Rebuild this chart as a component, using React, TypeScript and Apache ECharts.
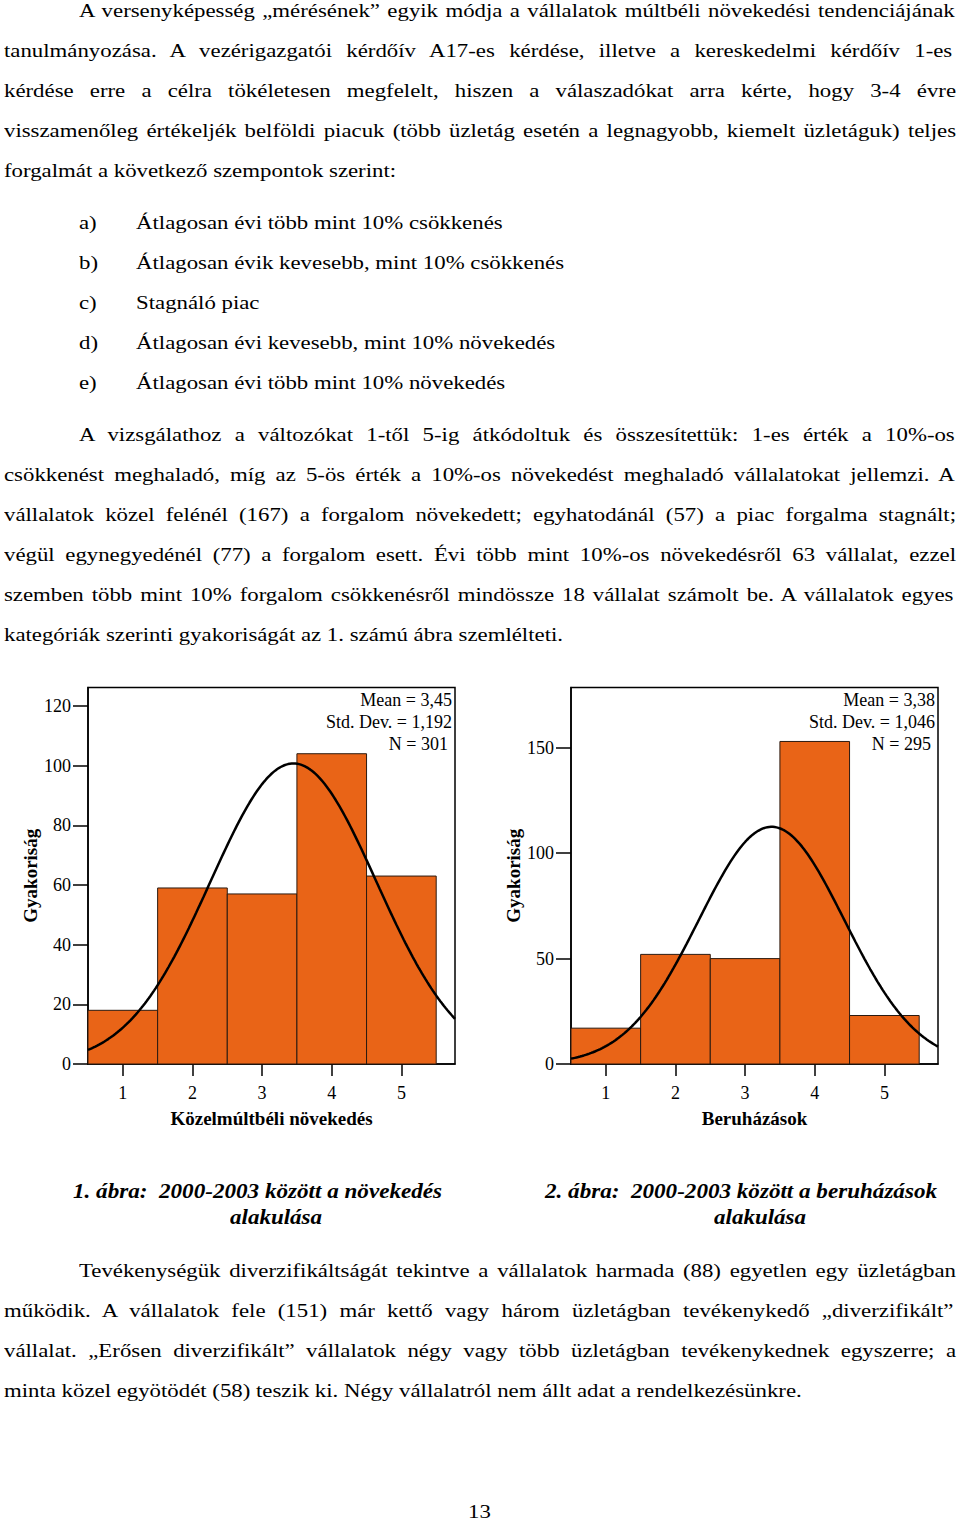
import React, { useEffect, useRef } from 'react';
import * as echarts from 'echarts';

// ---------- chart data ----------
const binCategories = [1, 2, 3, 4, 5];
const growthCounts = [18, 59, 57, 104, 63];
const investCounts = [17, 52, 50, 153, 23];
const growthYTicks = [0, 20, 40, 60, 80, 100, 120];
const investYTicks = [0, 50, 100, 150];
const growthStatLabels = ['Mean = 3,45', 'Std. Dev. = 1,192', 'N = 301'];
const investStatLabels = ['Mean = 3,38', 'Std. Dev. = 1,046', 'N = 295'];
const growthMeanSdN = [3.45, 1.192, 301];
const investMeanSdN = [3.38, 1.046, 295];
const axisTitles = ['Közelmúltbéli növekedés', 'Beruházások'];
const yTitle = 'Gyakoriság';

// ---------- page text ----------
const para1 = [
  'A versenyképesség „mérésének” egyik módja a vállalatok múltbéli növekedési tendenciájának',
  'tanulmányozása. A vezérigazgatói kérdőív A17-es kérdése, illetve a kereskedelmi kérdőív 1-es',
  'kérdése erre a célra tökéletesen megfelelt, hiszen a válaszadókat arra kérte, hogy 3-4 évre',
  'visszamenőleg értékeljék belföldi piacuk (több üzletág esetén a legnagyobb, kiemelt üzletáguk) teljes',
  'forgalmát a következő szempontok szerint:',
];
const listMarks = ['a)', 'b)', 'c)', 'd)', 'e)'];
const listItems = [
  'Átlagosan évi több mint 10% csökkenés',
  'Átlagosan évik kevesebb, mint 10% csökkenés',
  'Stagnáló piac',
  'Átlagosan évi kevesebb, mint 10% növekedés',
  'Átlagosan évi több mint 10% növekedés',
];
const para2 = [
  'A vizsgálathoz a változókat 1-től 5-ig átkódoltuk és összesítettük: 1-es érték a 10%-os',
  'csökkenést meghaladó, míg az 5-ös érték a 10%-os növekedést meghaladó vállalatokat jellemzi. A',
  'vállalatok közel felénél (167) a forgalom növekedett; egyhatodánál (57) a piac forgalma stagnált;',
  'végül egynegyedénél (77) a forgalom esett. Évi több mint 10%-os növekedésről 63 vállalat, ezzel',
  'szemben több mint 10% forgalom csökkenésről mindössze 18 vállalat számolt be. A vállalatok egyes',
  'kategóriák szerinti gyakoriságát az 1. számú ábra szemlélteti.',
];
const captions1 = ['1. ábra:  2000-2003 között a növekedés', 'alakulása'];
const captions2 = ['2. ábra:  2000-2003 között a beruházások', 'alakulása'];
const para3 = [
  'Tevékenységük diverzifikáltságát tekintve a vállalatok harmada (88) egyetlen egy üzletágban',
  'működik. A vállalatok fele (151) már kettő vagy három üzletágban tevékenykedő „diverzifikált”',
  'vállalat. „Erősen diverzifikált” vállalatok négy vagy több üzletágban tevékenykednek egyszerre; a',
  'minta közel egyötödét (58) teszik ki. Négy vállalatról nem állt adat a rendelkezésünkre.',
];
const pageNumber = '13';

const SERIF = "'Liberation Serif', 'Times New Roman', serif";
const ORANGE = '#E96417';
const SX = 1.2;

let mctx: CanvasRenderingContext2D | null = null;
function measure(text: string, font: string): number {
  if (!mctx) mctx = document.createElement('canvas').getContext('2d');
  if (!mctx) return text.length * 9;
  mctx.font = font;
  return mctx.measureText(text).width;
}

type LineProps = {
  text: string;
  x?: number;
  baseline: number;
  right?: number;
  center?: number;
  fitWidth?: number;
  bold?: boolean;
  italic?: boolean;
  size?: number;
};

function TextLine({ text, x = 0, baseline, right, center, fitWidth, bold, italic, size = 19 }: LineProps) {
  const font = `${italic ? 'italic ' : ''}${bold ? 'bold ' : ''}${size}px ${SERIF}`;
  const natural = measure(text, font);
  let scale = SX;
  let ws = 0;
  if (fitWidth) scale = fitWidth / natural;
  if (right !== undefined) {
    const gaps = (text.match(/ /g) || []).length;
    if (gaps > 0) ws = ((right - x) / SX - natural) / gaps;
  }
  let left = x;
  if (center !== undefined) left = center - (natural * scale) / 2;
  const lh = Math.round(size * 1.3);
  const baseOff = (lh - size * 1.107) / 2 + size * 0.891;
  return (
    <div
      style={{
        position: 'absolute',
        left,
        top: baseline - baseOff,
        whiteSpace: 'pre',
        fontFamily: SERIF,
        fontSize: size,
        fontWeight: bold ? 'bold' : 'normal',
        fontStyle: italic ? 'italic' : 'normal',
        lineHeight: `${lh}px`,
        wordSpacing: `${ws}px`,
        transform: `scaleX(${scale})`,
        transformOrigin: '0 0',
        color: '#000',
      }}
    >
      {text}
    </div>
  );
}

function normalCurve(msn: number[], xmin: number, xmax: number): number[][] {
  const [mean, sd, n] = msn;
  const pts: number[][] = [];
  const steps = 200;
  for (let i = 0; i <= steps; i++) {
    const x = xmin + ((xmax - xmin) * i) / steps;
    const z = (x - mean) / sd;
    pts.push([x, (n / (sd * Math.sqrt(2 * Math.PI))) * Math.exp(-0.5 * z * z)]);
  }
  return pts;
}

const X_MIN = 0.5;
const X_MAX = 5.77;

function barSeries(idx: number, counts: number[]) {
  return {
    type: 'custom',
    xAxisIndex: idx,
    yAxisIndex: idx,
    data: binCategories.map((c, i) => [c, counts[i]]),
    encode: { x: 0, y: 1 },
    renderItem: (params: any, api: any) => {
      const x = api.value(0);
      const v = api.value(1);
      const p0 = api.coord([x - 0.5, 0]);
      const p1 = api.coord([x + 0.5, v]);
      return {
        type: 'rect',
        shape: { x: p0[0], y: p1[1], width: p1[0] - p0[0], height: p0[1] - p1[1] },
        style: { fill: ORANGE, stroke: '#2b1a10', lineWidth: 1 },
      };
    },
    z: 2,
  };
}

function curveSeries(idx: number, msn: number[]) {
  return {
    type: 'line',
    xAxisIndex: idx,
    yAxisIndex: idx,
    data: normalCurve(msn, X_MIN, X_MAX),
    showSymbol: false,
    symbol: 'none',
    clip: true,
    lineStyle: { color: '#000', width: 2.5 },
    z: 3,
  };
}

function xAxis(idx: number) {
  return {
    type: 'value',
    gridIndex: idx,
    min: X_MIN,
    max: X_MAX,
    axisLine: { show: true, onZero: false, lineStyle: { color: '#000', width: 1.5 } },
    axisTick: { show: true, inside: false, length: 12, customValues: binCategories, lineStyle: { color: '#000', width: 1.5 } },
    axisLabel: { customValues: binCategories, fontFamily: SERIF, fontSize: 18, color: '#000', margin: 20 },
    splitLine: { show: false },
    name: axisTitles[idx],
    nameLocation: 'middle',
    nameGap: 45,
    nameTextStyle: { fontFamily: SERIF, fontSize: 19, fontWeight: 'bold', color: '#000' },
  };
}

function yAxis(idx: number, max: number, ticks: number[]) {
  return {
    type: 'value',
    gridIndex: idx,
    min: 0,
    max,
    axisLine: { show: true, lineStyle: { color: '#000', width: 1.5 } },
    axisTick: { show: true, inside: false, length: 15, customValues: ticks, lineStyle: { color: '#000', width: 1.5 } },
    axisLabel: { customValues: ticks, fontFamily: SERIF, fontSize: 18, color: '#000', margin: 17 },
    splitLine: { show: false },
    name: yTitle,
    nameLocation: 'middle',
    nameRotate: 90,
    nameGap: 48,
    nameTextStyle: { fontFamily: SERIF, fontSize: 19, fontWeight: 'bold', color: '#000' },
  };
}

function statTexts(rightX: number, labels: string[]) {
  const ys = [29.5, 52, 73.5];
  const rx = [rightX, rightX, rightX - 4];
  return labels.map((t, i) => ({
    type: 'text',
    x: rx[i],
    y: ys[i],
    z: 10,
    style: {
      text: t,
      fill: '#000',
      font: `18px ${SERIF}`,
      textAlign: 'right',
      textVerticalAlign: 'middle',
      align: 'right',
      verticalAlign: 'middle',
    },
  }));
}

function Charts() {
  const ref = useRef<HTMLDivElement>(null);
  useEffect(() => {
    if (!ref.current) return;
    const chart = echarts.init(ref.current, undefined, { renderer: 'svg' });
    chart.setOption({
      animation: false,
      backgroundColor: 'transparent',
      grid: [
        { left: 88, top: 17.5, width: 367, height: 376.5, show: true, borderColor: '#000', borderWidth: 1.5, backgroundColor: 'transparent' },
        { left: 571, top: 17.5, width: 367, height: 376.5, show: true, borderColor: '#000', borderWidth: 1.5, backgroundColor: 'transparent' },
      ],
      xAxis: [xAxis(0), xAxis(1)],
      yAxis: [yAxis(0, 126.2, growthYTicks), yAxis(1, 178.6, investYTicks)],
      series: [
        barSeries(0, growthCounts),
        curveSeries(0, growthMeanSdN),
        barSeries(1, investCounts),
        curveSeries(1, investMeanSdN),
      ],
      graphic: [...statTexts(452, growthStatLabels), ...statTexts(935, investStatLabels)],
    });
    return () => chart.dispose();
  }, []);
  return <div ref={ref} style={{ position: 'absolute', left: 0, top: 670, width: 960, height: 480 }} />;
}

export default function App() {
  return (
    <div style={{ position: 'absolute', left: 0, top: 0, width: 960, height: 1521, background: '#fff', overflow: 'hidden' }}>
      {para1.map((t, i) => (
        <TextLine key={'p1' + i} text={t} x={i === 0 ? 79 : 4} baseline={17.3 + 40 * i} right={i < para1.length - 1 ? 956 : undefined} />
      ))}
      {listItems.map((t, i) => (
        <React.Fragment key={'li' + i}>
          <TextLine text={listMarks[i]} x={79} baseline={228.8 + 40 * i} />
          <TextLine text={t} x={136} baseline={228.8 + 40 * i} />
        </React.Fragment>
      ))}
      {para2.map((t, i) => (
        <TextLine key={'p2' + i} text={t} x={i === 0 ? 79 : 4} baseline={440.8 + 40 * i} right={i < para2.length - 1 ? 956 : undefined} />
      ))}
      <Charts />
      <TextLine text={captions1[0]} x={73} baseline={1198} fitWidth={369} bold italic size={20} />
      <TextLine text={captions1[1]} center={276} baseline={1224} bold italic size={20} fitWidth={92} />
      <TextLine text={captions2[0]} x={545} baseline={1198} fitWidth={392} bold italic size={20} />
      <TextLine text={captions2[1]} center={760} baseline={1224} bold italic size={20} fitWidth={92} />
      {para3.map((t, i) => (
        <TextLine key={'p3' + i} text={t} x={i === 0 ? 79 : 4} baseline={1277 + 40 * i} right={i < para3.length - 1 ? 956 : undefined} />
      ))}
      <TextLine text={pageNumber} center={479} baseline={1517.5} />
    </div>
  );
}
